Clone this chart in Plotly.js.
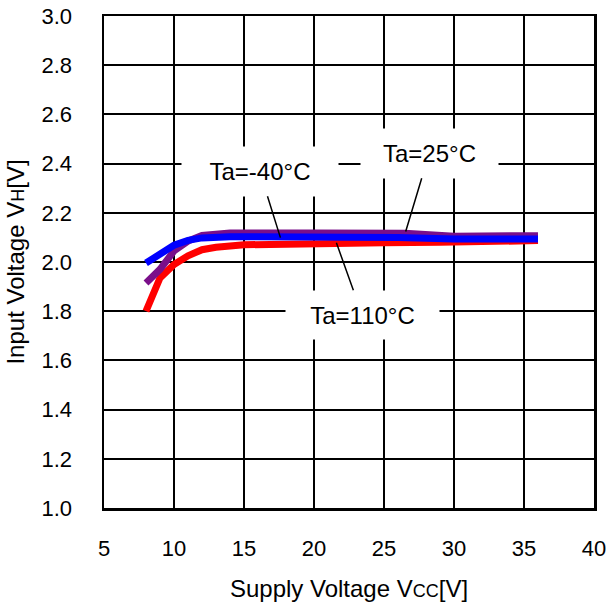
<!DOCTYPE html>
<html>
<head>
<meta charset="utf-8">
<script src="https://cdn.plot.ly/plotly-3.0.1.min.js"></script>
<style>html,body{margin:0;padding:0;background:#fff;}</style>
</head>
<body>
<div id="chart" style="width:607px;height:608px;"></div>
<script>
// Supply voltage Vcc [V]
const vccRed    = [8, 9, 10, 11, 12, 13, 15, 20, 25, 29, 36];
const vihRed    = [1.80, 1.935, 1.99, 2.025, 2.05, 2.06, 2.07, 2.077, 2.078, 2.08, 2.087];
const vccPurple = [8, 9, 10, 11, 12, 14, 20, 26.5, 30, 36];
const vihPurple = [1.915, 1.97, 2.045, 2.085, 2.108, 2.118, 2.118, 2.117, 2.105, 2.107];
const vccBlue   = [8, 9, 10, 11, 12, 14, 20, 26, 30, 36];
const vihBlue   = [1.996, 2.035, 2.068, 2.088, 2.098, 2.103, 2.102, 2.1, 2.093, 2.093];

const seriesNames = ['Ta=110°C', 'Ta=25°C', 'Ta=-40°C'];
const xTicks = [5, 10, 15, 20, 25, 30, 35, 40];
const yTicks = [1.0, 1.2, 1.4, 1.6, 1.8, 2.0, 2.2, 2.4, 2.6, 2.8, 3.0];

const FONT = 'Arial, "Liberation Sans", sans-serif';

const traces = [
  {x: vccRed, y: vihRed, name: seriesNames[0], mode: 'lines', line: {color: '#ff0000', width: 7}},
  {x: vccPurple, y: vihPurple, name: seriesNames[1], mode: 'lines', line: {color: '#7a0f8a', width: 7}},
  {x: vccBlue, y: vihBlue, name: seriesNames[2], mode: 'lines', line: {color: '#0000ff', width: 7}}
];

function label(text, x, y, tx, ty, w, h) {
  return {
    text: text, x: tx, y: ty, xref: 'x', yref: 'y',
    ax: x, ay: y, axref: 'x', ayref: 'y',
    showarrow: true, arrowhead: 0, arrowwidth: 1.5, arrowcolor: '#000',
    bgcolor: '#ffffff', width: w, height: h,
    font: {family: FONT, size: 24, color: '#000'}
  };
}

const layout = {
  width: 607, height: 608,
  margin: {l: 104, r: 13, t: 16, b: 100},
  paper_bgcolor: '#fff', plot_bgcolor: '#fff',
  showlegend: false,
  font: {family: FONT, size: 22, color: '#000'},
  xaxis: {
    range: [5, 40], tickvals: xTicks, ticktext: xTicks.map(String),
    showgrid: true, gridcolor: '#000', gridwidth: 2,
    showline: true, linecolor: '#000', linewidth: 2.5, mirror: true,
    zeroline: false, ticks: '', ticklabelstandoff: 19,
    tickfont: {family: FONT, size: 22},
    title: {text: 'Supply Voltage V<span style="font-size:18px">CC</span>[V]', font: {family: FONT, size: 24}, standoff: 21}
  },
  yaxis: {
    range: [1.0, 3.0], tickvals: yTicks, ticktext: yTicks.map(v => v.toFixed(1)),
    showgrid: true, gridcolor: '#000', gridwidth: 2,
    showline: true, linecolor: '#000', linewidth: 2.5, mirror: true,
    zeroline: false, ticks: '', ticklabelstandoff: 25,
    tickfont: {family: FONT, size: 22},
    title: {text: 'Input Voltage V<span style="font-size:18px">H</span>[V]', font: {family: FONT, size: 24}, standoff: 10}
  },
  annotations: [
    label('Ta=-40°C', 16.12, 2.369, 17.6, 2.099, 154, 47),
    label('Ta=25°C', 28.23, 2.442, 26.55, 2.124, 135, 47),
    label('Ta=110°C', 23.44, 1.786, 21.6, 2.078, 151, 46)
  ]
};

Plotly.newPlot('chart', traces, layout, {displayModeBar: false, staticPlot: true});
</script>
</body>
</html>
